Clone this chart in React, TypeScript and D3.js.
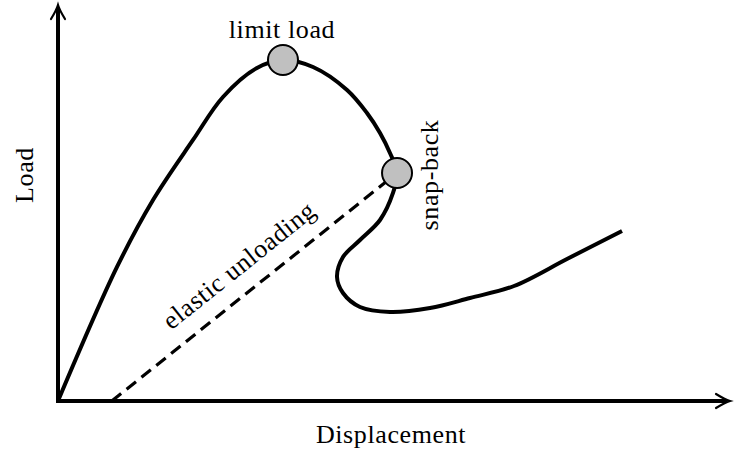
import React from "react";
import * as d3 from "d3";

// load–displacement path (arbitrary units, 0..10 on both axes)
const curveX = [0, 0.878, 1.414, 2.009, 2.455, 2.961, 3.348, 3.795, 4.301, 4.598, 4.792, 4.94, 5.045, 4.985, 4.792, 4.494, 4.241, 4.152, 4.241, 4.494, 4.94, 5.536, 6.131, 6.786, 7.574, 8.393];
const curveY = [0, 3.384, 5.076, 6.591, 7.677, 8.409, 8.611, 8.434, 7.854, 7.273, 6.768, 6.263, 5.758, 5.253, 4.571, 4.066, 3.636, 3.131, 2.727, 2.374, 2.247, 2.348, 2.601, 2.904, 3.586, 4.293];

const markerLabels = ["limit load", "snap-back"];
const markerX = [3.348, 5.045];
const markerY = [8.611, 5.758];

// elastic unloading line: from the snap-back point down to the x axis
const unloadX = [0.8, 5.045];
const unloadY = [0, 5.758];

const W = 734;
const H = 452;
const font = "'Liberation Serif', 'DejaVu Serif', serif";
const fs = 26;
const ls = 0.6;

export default function App() {
  const x = d3.scaleLinear().domain([0, 10]).range([58, 730]);
  const y = d3.scaleLinear().domain([0, 10]).range([401, 5]);

  const pts: [number, number][] = curveX.map((v, i) => [v, curveY[i]]);
  const line = d3.line<[number, number]>()
    .x(d => x(d[0]))
    .y(d => y(d[1]))
    .curve(d3.curveCatmullRom.alpha(0.5));

  const unloadPts: [number, number][] = unloadX.map((v, i) => [v, unloadY[i]]);
  const straight = d3.line<[number, number]>().x(d => x(d[0])).y(d => y(d[1]));

  const ux0 = x(unloadX[0]), uy0 = y(unloadY[0]);
  const ux1 = x(unloadX[1]), uy1 = y(unloadY[1]);
  const angle = Math.atan2(uy1 - uy0, ux1 - ux0) * 180 / Math.PI;

  const arrow = "M -14,-7 Q -5,-1.5 0,0 Q -5,1.5 -14,7";
  const txt = { fontFamily: font, fontSize: fs, letterSpacing: ls, textAnchor: "middle" as const };

  return (
    <svg width={W} height={H} style={{ position: "absolute", left: 0, top: 0 }}>
      <rect width={W} height={H} fill="#fff" />

      {/* axes */}
      <line x1={x(0)} y1={y(0)} x2={x(10) - 3} y2={y(0)} stroke="#000" strokeWidth={4} />
      <line x1={x(0)} y1={y(0) + 2} x2={x(0)} y2={y(10) + 3} stroke="#000" strokeWidth={4} />
      <path d={arrow} transform={`translate(${x(10)},${y(0)})`} fill="none" stroke="#000" strokeWidth={2.2} strokeLinecap="round" />
      <path d={arrow} transform={`translate(${x(0)},${y(10)}) rotate(-90)`} fill="none" stroke="#000" strokeWidth={2.2} strokeLinecap="round" />

      {/* elastic unloading */}
      <path d={straight(unloadPts) || ""} fill="none" stroke="#000" strokeWidth={3.2} strokeDasharray="12 7" />
      <text {...txt} transform={`translate(${(ux0 + ux1) / 2 - 10},${(uy0 + uy1) / 2 - 15}) rotate(${angle})`}>elastic unloading</text>

      {/* response curve */}
      <path d={line(pts) || ""} fill="none" stroke="#000" strokeWidth={4} strokeLinejoin="round" />

      {markerX.map((v, i) => (
        <circle key={i} cx={x(v)} cy={y(markerY[i])} r={15} fill="#c0c0c0" stroke="#000" strokeWidth={2} />
      ))}

      <text {...txt} x={282} y={38}>{markerLabels[0]}</text>
      <text {...txt} transform="translate(438,175) rotate(-90)">{markerLabels[1]}</text>

      {/* axis titles */}
      <text {...txt} x={391} y={443}>Displacement</text>
      <text {...txt} transform="translate(33,175) rotate(-90)">Load</text>
    </svg>
  );
}
